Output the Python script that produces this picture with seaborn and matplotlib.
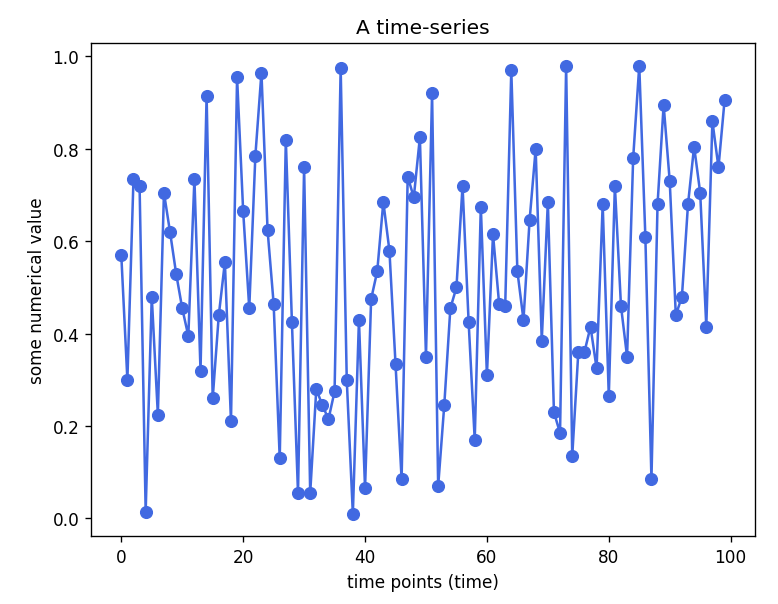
import numpy as np
import matplotlib
matplotlib.use("Agg")
import matplotlib.pyplot as plt
import seaborn as sns
import pandas as pd

# values
time_points = list(range(100))
values = [
    0.57, 0.30, 0.735, 0.72, 0.015, 0.48, 0.225, 0.705, 0.62, 0.53,
    0.455, 0.395, 0.735, 0.32, 0.915, 0.26, 0.44, 0.555, 0.21, 0.955,
    0.665, 0.455, 0.785, 0.965, 0.625, 0.465, 0.13, 0.82, 0.425, 0.055,
    0.76, 0.055, 0.28, 0.245, 0.215, 0.275, 0.975, 0.30, 0.01, 0.43,
    0.065, 0.475, 0.535, 0.685, 0.58, 0.335, 0.085, 0.74, 0.695, 0.825,
    0.35, 0.92, 0.07, 0.245, 0.455, 0.50, 0.72, 0.425, 0.17, 0.675,
    0.31, 0.615, 0.465, 0.46, 0.97, 0.535, 0.43, 0.645, 0.80, 0.385,
    0.685, 0.23, 0.185, 0.98, 0.135, 0.36, 0.36, 0.415, 0.325, 0.68,
    0.265, 0.72, 0.46, 0.35, 0.78, 0.98, 0.61, 0.085, 0.68, 0.895,
    0.73, 0.44, 0.48, 0.68, 0.805, 0.705, 0.415, 0.86, 0.76, 0.905,
]

df = pd.DataFrame({'time': time_points, 'value': values})

fig, ax = plt.subplots(figsize=(6.4, 4.97), dpi=121.7)
fig.subplots_adjust(left=0.117, right=0.969, top=0.927, bottom=0.112)

sns.lineplot(data=df, x='time', y='value', marker='o', markersize=7,
             color='royalblue', markeredgecolor='royalblue', ax=ax)

ax.set_title('A time-series')
ax.set_xlabel('time points (time)')
ax.set_ylabel('some numerical value')

fig.savefig('out.png', dpi=121.7)
